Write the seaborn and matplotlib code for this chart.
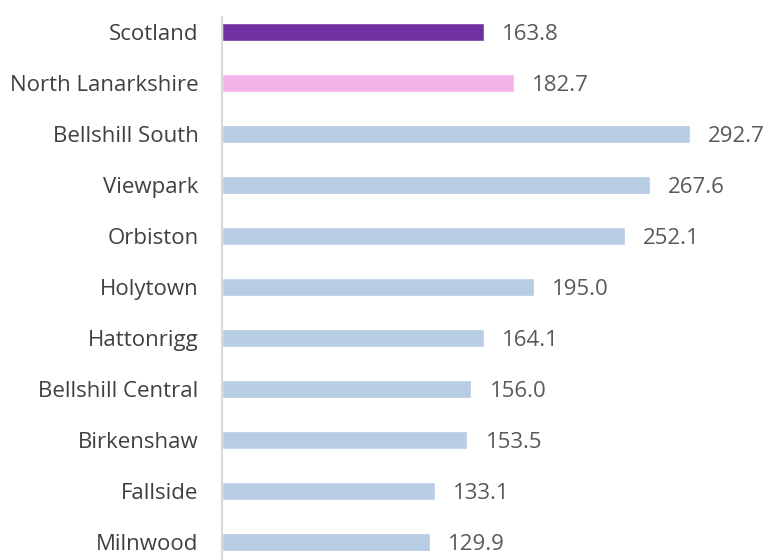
import pandas as pd
import matplotlib.pyplot as plt
import seaborn as sns

# areas and rate values, top to bottom
areas = ['Scotland', 'North Lanarkshire', 'Bellshill South', 'Viewpark', 'Orbiston',
         'Holytown', 'Hattonrigg', 'Bellshill Central', 'Birkenshaw', 'Fallside', 'Milnwood']
rates = [163.8, 182.7, 292.7, 267.6, 252.1, 195.0, 164.1, 156.0, 153.5, 133.1, 129.9]

df = pd.DataFrame({'area': areas, 'rate': rates})

# colours per bar
palette = ['#7030a0', '#f2b3e8'] + ['#b8cce4'] * (len(areas) - 2)

sns.set_style('white')
plt.rcParams['font.family'] = ['Open Sans', 'DejaVu Sans']

fig = plt.figure(figsize=(7.68, 5.6), dpi=100)
ax = fig.add_axes([222 / 768, 0, 1 - 222 / 768, 1])

sns.barplot(data=df, x='rate', y='area', hue='area', palette=palette, saturation=1,
            legend=False, width=0.35, ax=ax, orient='h')

for c in ax.containers:
    labels = ax.bar_label(c, fmt='%.1f', padding=13, fontsize=16, color='#595959')
    for t in labels:
        t.set_va('center_baseline')

ax.set_xlim(0, 341.5)
ax.set_ylim(10.35, -0.627)
ax.set_xlabel('')
ax.set_ylabel('')
ax.set_xticks([])
ax.tick_params(axis='y', length=0, pad=17, labelsize=16, labelcolor='#404040')

for s in ['top', 'right', 'bottom']:
    ax.spines[s].set_visible(False)
ax.spines['left'].set_color('#d9d9d9')
ax.spines['left'].set_linewidth(1.5)
ax.spines['left'].set_bounds(-0.3, 10.35)

fig.savefig('out.png', dpi=100)
